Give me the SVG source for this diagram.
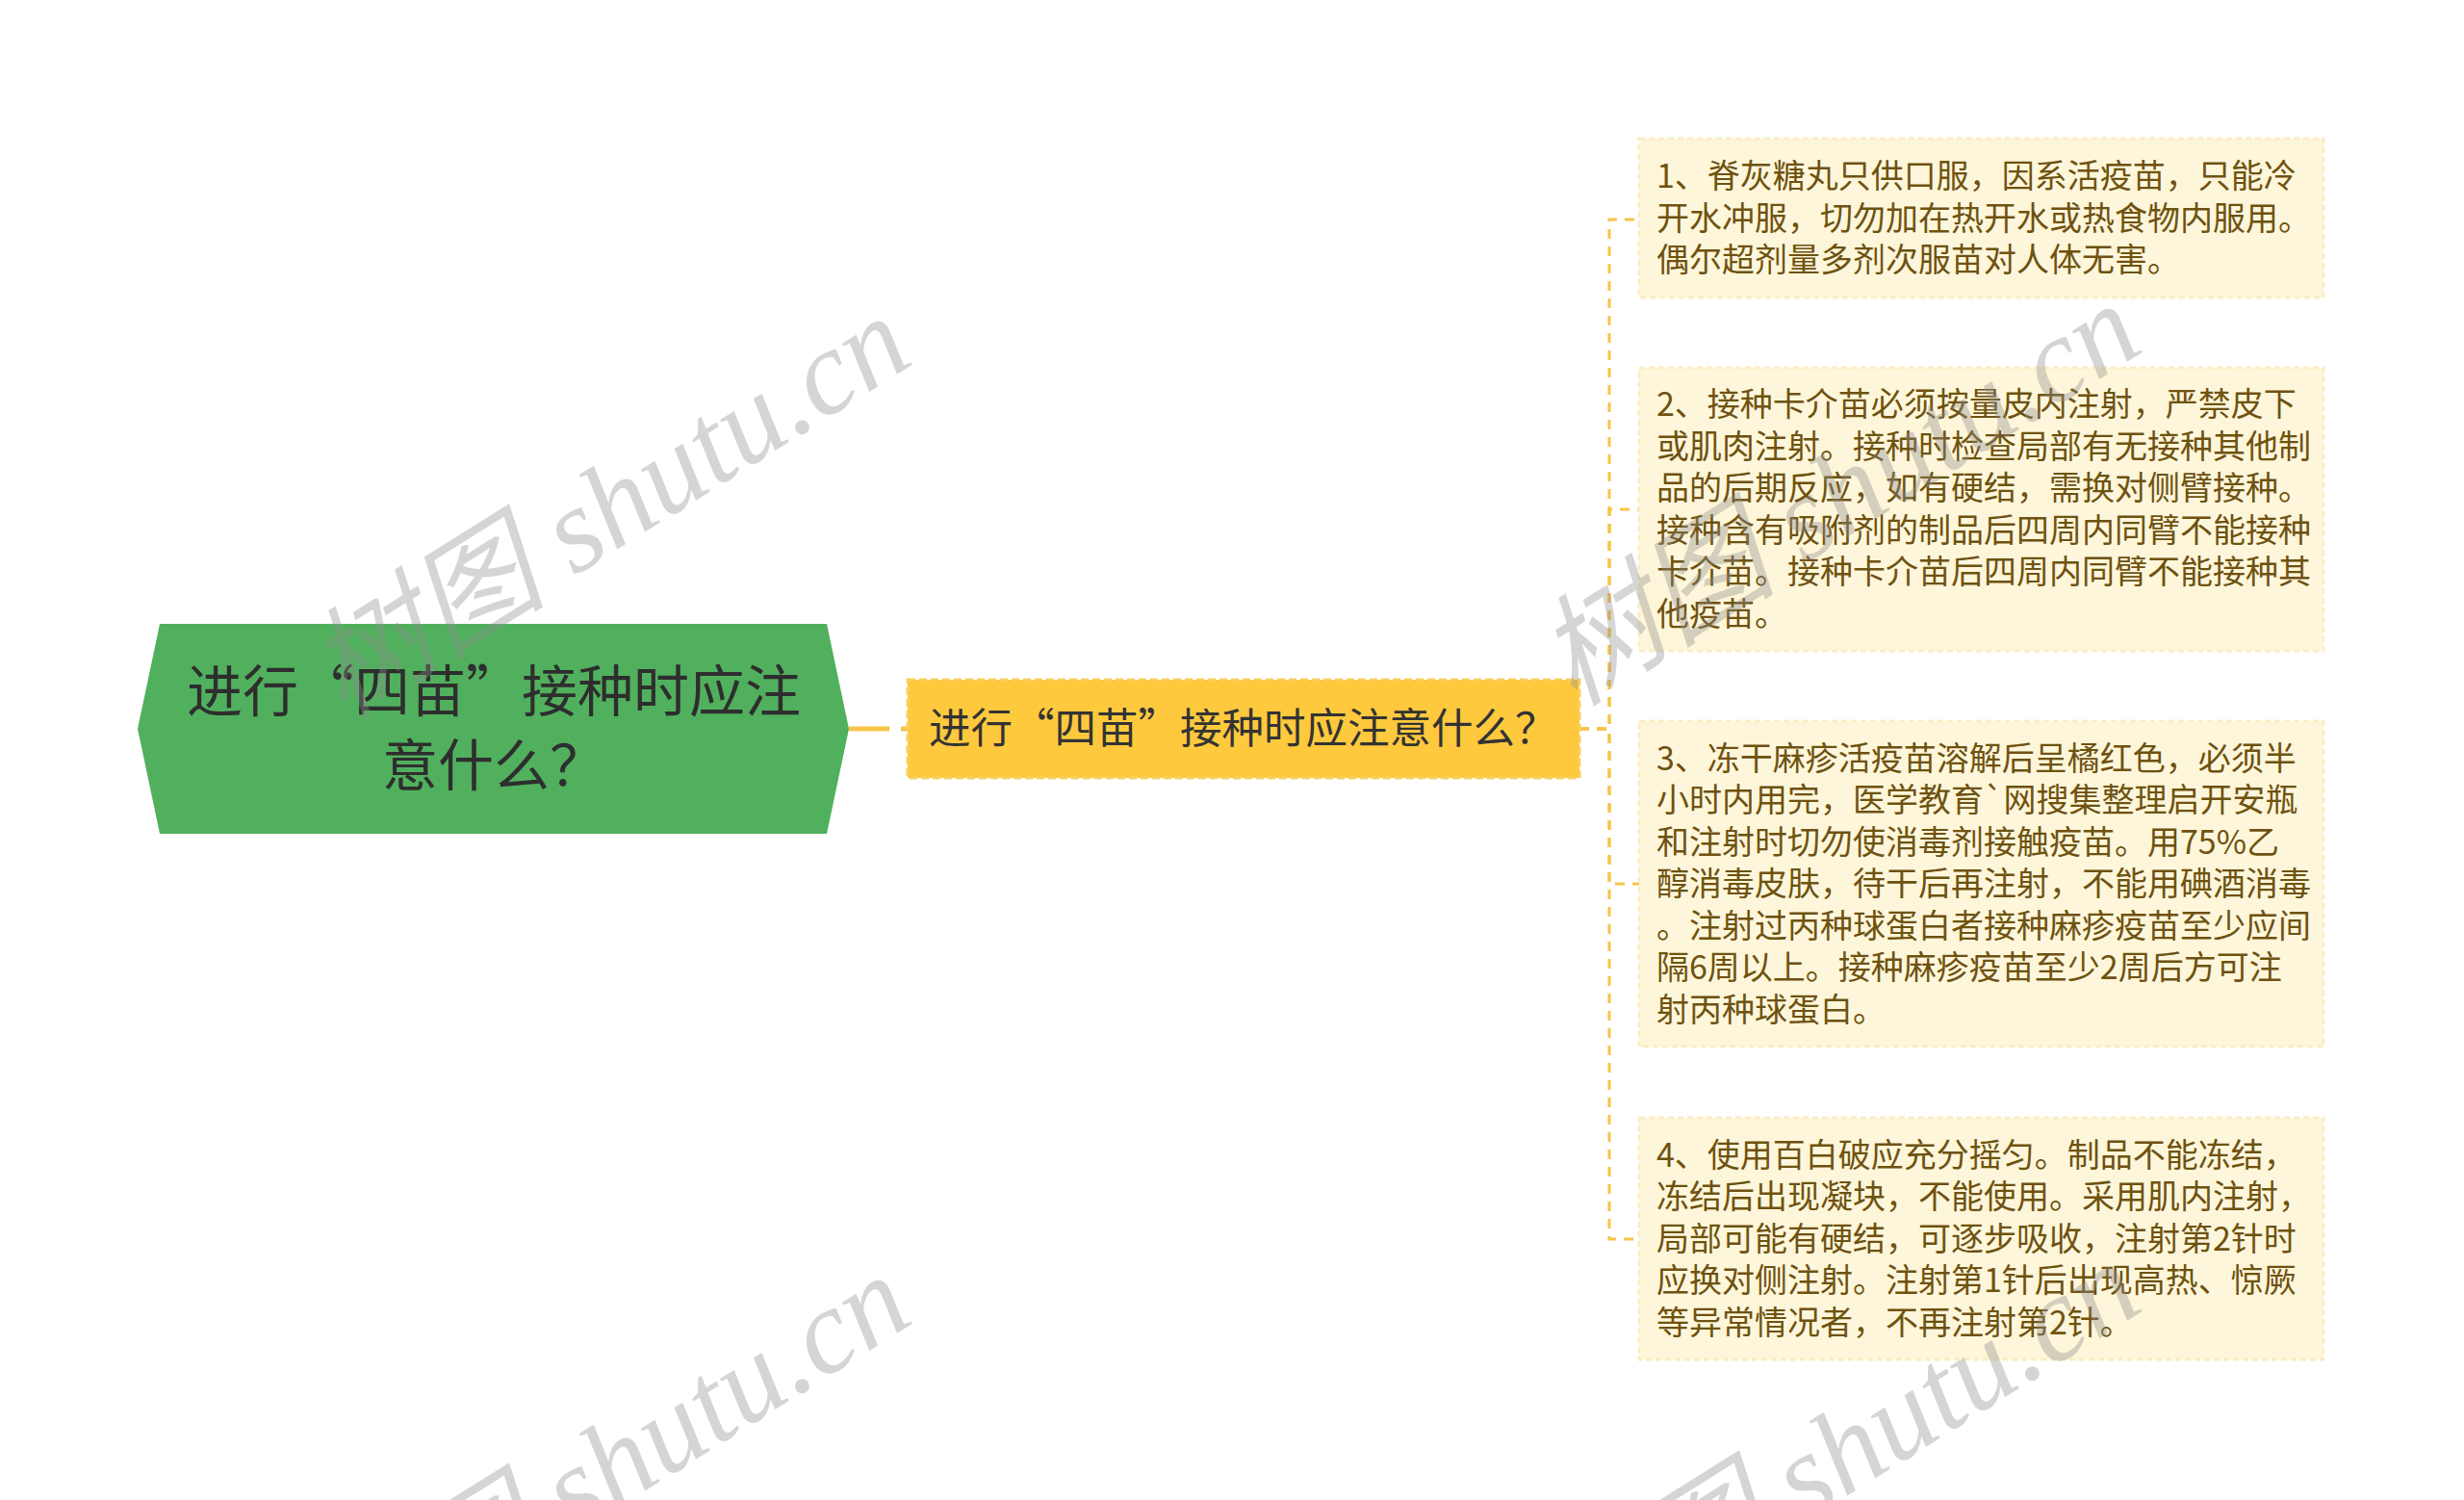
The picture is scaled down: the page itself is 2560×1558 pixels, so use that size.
<svg xmlns="http://www.w3.org/2000/svg" width="2560" height="1558" viewBox="0 0 2560 1558">
<style>
.cjk{font-family:"Noto Sans CJK SC","Noto Sans",sans-serif}
.root-t{font-size:58px;fill:#2e2e2e}
.sub-t{font-size:43.5px;fill:#333333}
.leaf-t{font-size:34px;fill:#6e5210}
.leaf-box{fill:#fef6da;stroke:#fbedc3;stroke-width:3;stroke-dasharray:6 4}
.conn{fill:none;stroke:#f7c447;stroke-width:3;stroke-dasharray:10 8}
.wm{font-family:"Liberation Serif","Noto Sans CJK SC",serif;font-style:italic;font-size:125px;fill:#8c8c8c;opacity:0.36}
</style>
<rect width="2560" height="1558" fill="#ffffff"/>
<g id="connectors">
<line x1="882" y1="757" x2="943" y2="757" stroke="#f7c447" stroke-width="5" stroke-dasharray="42 12"/>
<path class="conn" d="M1641 757 H1672 V228 H1703"/>
<path class="conn" d="M1641 757 H1672 V529 H1703"/>
<path class="conn" d="M1641 757 H1672 V918 H1703"/>
<path class="conn" d="M1641 757 H1672 V1287 H1703"/>
</g>
<g id="root">
<polygon points="143,757 166,648 859,648 882,757 859,866 166,866" fill="#51b05d"/>
<text class="cjk root-t" x="513" y="739" text-anchor="middle">进行“四苗”接种时应注</text>
<text class="cjk root-t" x="513" y="816" text-anchor="middle">意什么？</text>
</g>
<g id="sub">
<rect x="943" y="706" width="698" height="102" fill="#ffc93d" stroke="#f8d060" stroke-width="3" stroke-dasharray="8 4"/>
<text class="cjk sub-t" x="965" y="772">进行“四苗”接种时应注意什么？</text>
</g>
<g id="leaf1">
<rect class="leaf-box" x="1703" y="144" width="711" height="165"/>
<text class="cjk leaf-t" x="1721" y="195">1、脊灰糖丸只供口服，因系活疫苗，只能冷</text>
<text class="cjk leaf-t" x="1721" y="238.5">开水冲服，切勿加在热开水或热食物内服用。</text>
<text class="cjk leaf-t" x="1721" y="282">偶尔超剂量多剂次服苗对人体无害。</text>
</g>
<g id="leaf2">
<rect class="leaf-box" x="1703" y="382" width="711" height="294"/>
<text class="cjk leaf-t" x="1721" y="432">2、接种卡介苗必须按量皮内注射，严禁皮下</text>
<text class="cjk leaf-t" x="1721" y="475.5">或肌肉注射。接种时检查局部有无接种其他制</text>
<text class="cjk leaf-t" x="1721" y="519">品的后期反应，如有硬结，需换对侧臂接种。</text>
<text class="cjk leaf-t" x="1721" y="562.5">接种含有吸附剂的制品后四周内同臂不能接种</text>
<text class="cjk leaf-t" x="1721" y="606">卡介苗。接种卡介苗后四周内同臂不能接种其</text>
<text class="cjk leaf-t" x="1721" y="649.5">他疫苗。</text>
</g>
<g id="leaf3">
<rect class="leaf-box" x="1703" y="749" width="711" height="338"/>
<text class="cjk leaf-t" x="1721" y="799.5">3、冻干麻疹活疫苗溶解后呈橘红色，必须半</text>
<text class="cjk leaf-t" x="1721" y="843">小时内用完，医学教育`网搜集整理启开安瓶</text>
<text class="cjk leaf-t" x="1721" y="886.5">和注射时切勿使消毒剂接触疫苗。用75%乙</text>
<text class="cjk leaf-t" x="1721" y="930">醇消毒皮肤，待干后再注射，不能用碘酒消毒</text>
<text class="cjk leaf-t" x="1721" y="973.5">。注射过丙种球蛋白者接种麻疹疫苗至少应间</text>
<text class="cjk leaf-t" x="1721" y="1017">隔6周以上。接种麻疹疫苗至少2周后方可注</text>
<text class="cjk leaf-t" x="1721" y="1060.5">射丙种球蛋白。</text>
</g>
<g id="leaf4">
<rect class="leaf-box" x="1703" y="1161" width="711" height="251"/>
<text class="cjk leaf-t" x="1721" y="1211.5">4、使用百白破应充分摇匀。制品不能冻结，</text>
<text class="cjk leaf-t" x="1721" y="1255">冻结后出现凝块，不能使用。采用肌内注射，</text>
<text class="cjk leaf-t" x="1721" y="1298.5">局部可能有硬结，可逐步吸收，注射第2针时</text>
<text class="cjk leaf-t" x="1721" y="1342">应换对侧注射。注射第1针后出现高热、惊厥</text>
<text class="cjk leaf-t" x="1721" y="1385.5">等异常情况者，不再注射第2针。</text>
</g>
<g id="watermarks">
<text class="wm" text-anchor="middle" transform="translate(655,562) rotate(-32)">树图 shutu.cn</text>
<text class="wm" text-anchor="middle" transform="translate(1933,549) rotate(-32)">树图 shutu.cn</text>
<text class="wm" text-anchor="middle" transform="translate(655,1558) rotate(-32)">树图 shutu.cn</text>
<text class="wm" text-anchor="middle" transform="translate(1933,1545) rotate(-32)">树图 shutu.cn</text>
</g>
</svg>
